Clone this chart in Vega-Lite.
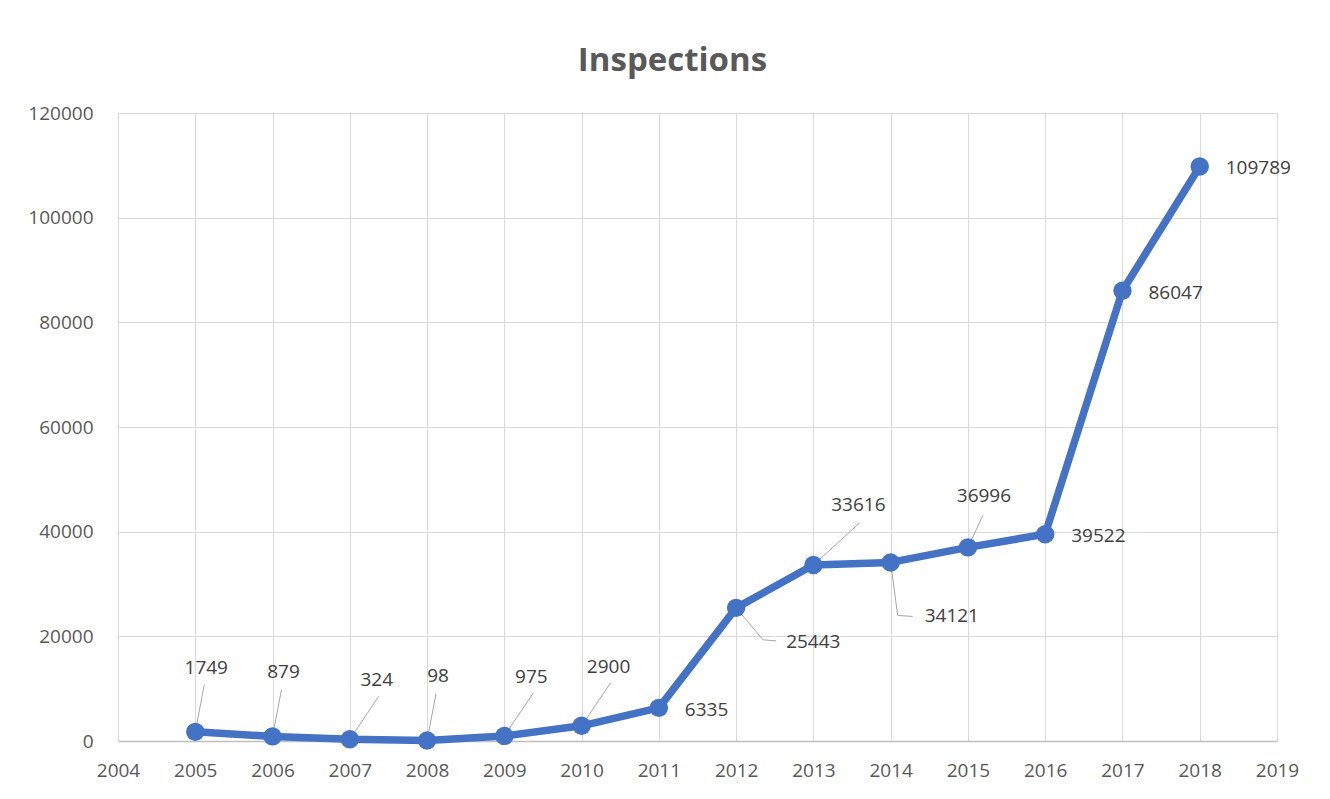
{
  "$schema": "https://vega.github.io/schema/vega-lite/v6.json",
  "width": 1159,
  "height": 628,
  "autosize": {"type": "none"},
  "padding": {"left": 118, "top": 113, "right": 53, "bottom": 58},
  "background": "white",
  "title": {
    "text": "Inspections",
    "anchor": "middle",
    "dx": -25,
    "offset": 0,
    "baseline": "alphabetic",
    "font": "Open Sans",
    "fontSize": 33,
    "fontWeight": "bold",
    "color": "#595959"
  },
  "config": {
    "view": {"stroke": null},
    "axis": {
      "labelFont": "Open Sans",
      "labelFontSize": 19,
      "labelColor": "#595959",
      "gridColor": "#D9D9D9",
      "gridWidth": 1,
      "ticks": false,
      "tickSize": 0,
      "title": null
    }
  },
  "data": {
    "values": [
      {"year": 2005, "value": 1749, "pos": "up"},
      {"year": 2006, "value": 879, "pos": "up"},
      {"year": 2007, "value": 324, "pos": "upRight"},
      {"year": 2008, "value": 98, "pos": "up"},
      {"year": 2009, "value": 975, "pos": "upRight"},
      {"year": 2010, "value": 2900, "pos": "upRight"},
      {"year": 2011, "value": 6335, "pos": "right"},
      {"year": 2012, "value": 25443, "pos": "downRight"},
      {"year": 2013, "value": 33616, "pos": "upRightFar"},
      {"year": 2014, "value": 34121, "pos": "down"},
      {"year": 2015, "value": 36996, "pos": "upShort"},
      {"year": 2016, "value": 39522, "pos": "right"},
      {"year": 2017, "value": 86047, "pos": "right"},
      {"year": 2018, "value": 109789, "pos": "right"}
    ]
  },
  "encoding": {
    "x": {
      "field": "year",
      "type": "quantitative",
      "scale": {"domain": [2004, 2019], "nice": false, "zero": false},
      "axis": {
        "values": [2004, 2005, 2006, 2007, 2008, 2009, 2010, 2011, 2012, 2013, 2014, 2015, 2016, 2017, 2018, 2019],
        "format": "d",
        "labelPadding": 20,
        "domain": true,
        "domainColor": "#BFBFBF",
        "domainWidth": 1.5,
        "labelFlush": false,
        "labelOverlap": false
      }
    },
    "y": {
      "field": "value",
      "type": "quantitative",
      "scale": {"domain": [0, 120000], "nice": false},
      "axis": {
        "values": [0, 20000, 40000, 60000, 80000, 100000, 120000],
        "format": "d",
        "labelPadding": 25,
        "domain": false
      }
    }
  },
  "layer": [
    {
      "transform": [{"filter": "datum.pos == 'up'"}],
      "mark": {"type": "rule", "color": "#A6A6A6", "strokeWidth": 1, "x2Offset": 9, "y2Offset": -47},
      "encoding": {"x2": {"field": "year"}, "y2": {"field": "value"}}
    },
    {
      "transform": [{"filter": "datum.pos == 'upRight'"}],
      "mark": {"type": "rule", "color": "#A6A6A6", "strokeWidth": 1, "x2Offset": 29, "y2Offset": -43},
      "encoding": {"x2": {"field": "year"}, "y2": {"field": "value"}}
    },
    {
      "transform": [{"filter": "datum.pos == 'upRightFar'"}],
      "mark": {"type": "rule", "color": "#A6A6A6", "strokeWidth": 1, "x2Offset": 46, "y2Offset": -42},
      "encoding": {"x2": {"field": "year"}, "y2": {"field": "value"}}
    },
    {
      "transform": [{"filter": "datum.pos == 'upShort'"}],
      "mark": {"type": "rule", "color": "#A6A6A6", "strokeWidth": 1, "x2Offset": 15, "y2Offset": -32},
      "encoding": {"x2": {"field": "year"}, "y2": {"field": "value"}}
    },
    {
      "transform": [{"filter": "datum.pos == 'downRight'"}],
      "mark": {"type": "rule", "color": "#A6A6A6", "strokeWidth": 1, "x2Offset": 27, "y2Offset": 32},
      "encoding": {"x2": {"field": "year"}, "y2": {"field": "value"}}
    },
    {
      "transform": [{"filter": "datum.pos == 'downRight'"}],
      "mark": {"type": "rule", "color": "#A6A6A6", "strokeWidth": 1, "xOffset": 27, "yOffset": 32, "x2Offset": 40, "y2Offset": 33},
      "encoding": {"x2": {"field": "year"}, "y2": {"field": "value"}}
    },
    {
      "transform": [{"filter": "datum.pos == 'down'"}],
      "mark": {"type": "rule", "color": "#A6A6A6", "strokeWidth": 1, "x2Offset": 7, "y2Offset": 53},
      "encoding": {"x2": {"field": "year"}, "y2": {"field": "value"}}
    },
    {
      "transform": [{"filter": "datum.pos == 'down'"}],
      "mark": {"type": "rule", "color": "#A6A6A6", "strokeWidth": 1, "xOffset": 7, "yOffset": 53, "x2Offset": 22, "y2Offset": 54},
      "encoding": {"x2": {"field": "year"}, "y2": {"field": "value"}}
    },
    {
      "mark": {"type": "line", "color": "#4472C4", "strokeWidth": 7.5, "strokeJoin": "round", "strokeCap": "round"},
      "encoding": {}
    },
    {
      "mark": {"type": "point", "filled": true, "opacity": 1, "size": 340, "color": "#4472C4"},
      "encoding": {}
    },
    {
      "transform": [{"filter": "datum.pos == 'up'"}],
      "mark": {"type": "text", "align": "center", "baseline": "middle", "dx": 11, "dy": -64, "font": "Open Sans", "fontSize": 19, "color": "#404040"},
      "encoding": {"text": {"field": "value", "type": "quantitative", "format": "d"}}
    },
    {
      "transform": [{"filter": "datum.pos == 'upRight'"}],
      "mark": {"type": "text", "align": "center", "baseline": "middle", "dx": 27, "dy": -59, "font": "Open Sans", "fontSize": 19, "color": "#404040"},
      "encoding": {"text": {"field": "value", "type": "quantitative", "format": "d"}}
    },
    {
      "transform": [{"filter": "datum.pos == 'upRightFar'"}],
      "mark": {"type": "text", "align": "center", "baseline": "middle", "dx": 45, "dy": -60, "font": "Open Sans", "fontSize": 19, "color": "#404040"},
      "encoding": {"text": {"field": "value", "type": "quantitative", "format": "d"}}
    },
    {
      "transform": [{"filter": "datum.pos == 'upShort'"}],
      "mark": {"type": "text", "align": "center", "baseline": "middle", "dx": 16, "dy": -51, "font": "Open Sans", "fontSize": 19, "color": "#404040"},
      "encoding": {"text": {"field": "value", "type": "quantitative", "format": "d"}}
    },
    {
      "transform": [{"filter": "datum.pos == 'right'"}],
      "mark": {"type": "text", "align": "left", "baseline": "middle", "dx": 26, "dy": 2, "font": "Open Sans", "fontSize": 19, "color": "#404040"},
      "encoding": {"text": {"field": "value", "type": "quantitative", "format": "d"}}
    },
    {
      "transform": [{"filter": "datum.pos == 'downRight'"}],
      "mark": {"type": "text", "align": "left", "baseline": "middle", "dx": 50, "dy": 34, "font": "Open Sans", "fontSize": 19, "color": "#404040"},
      "encoding": {"text": {"field": "value", "type": "quantitative", "format": "d"}}
    },
    {
      "transform": [{"filter": "datum.pos == 'down'"}],
      "mark": {"type": "text", "align": "left", "baseline": "middle", "dx": 34, "dy": 54, "font": "Open Sans", "fontSize": 19, "color": "#404040"},
      "encoding": {"text": {"field": "value", "type": "quantitative", "format": "d"}}
    }
  ]
}
